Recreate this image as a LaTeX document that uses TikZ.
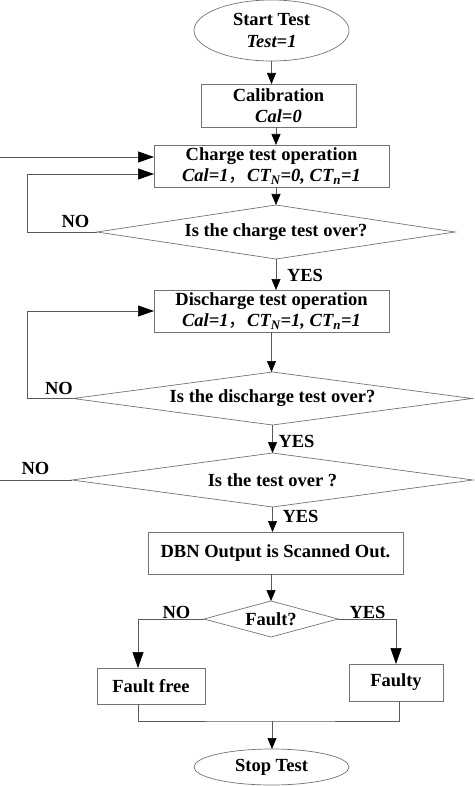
\documentclass[tikz,border=0pt]{standalone}
\usepackage{fontspec}
\setmainfont{Liberation Serif}
\newfontfamily\cjk{Noto Sans CJK SC}
\usepackage{tikz}
\usetikzlibrary{shapes.geometric,arrows.meta}

\tikzset{
	flowline/.style={draw=black!65, line width=0.7pt},
	arr/.style={flowline, -{Triangle[length=11pt,width=9pt,black]}},
	bigarr/.style={flowline, -{Triangle[length=16pt,width=11pt,black]}},
	procbox/.style={draw=black!55, line width=0.7pt, rectangle, align=center, inner sep=0pt, outer sep=0pt},
	termnode/.style={draw=black!55, line width=0.7pt, ellipse, align=center, inner sep=0pt, outer sep=0pt},
	decide/.style={draw=black!55, line width=0.7pt, diamond, inner sep=0pt, outer sep=0pt},
}

\begin{document}
\begin{tikzpicture}[x=1pt,y=-1pt,font=\fontsize{18.5}{21.5}\selectfont\bfseries]
		\useasboundingbox (0,0) rectangle (474,786);

		%% Steps, top to bottom
		\node[termnode, minimum width=155, minimum height=61] (start) at (271.5,30.5) {Start Test\\\textit{Test=1}};
		\node[procbox, minimum width=155, minimum height=43] (cal) at (278.5,105.5) {Calibration\\\textit{Cal=0}};
		\node[procbox, minimum width=235, minimum height=42] (charge) at (271.5,166)
		{Charge test operation\\\textit{Cal=1{\cjk\upshape\mdseries ，}CT\textsubscript{N}=0, CT\textsubscript{n}=1}};
		\node[decide, minimum width=358, minimum height=54, shape aspect=6.6] (d1) at (276,232) {Is the charge test over?};
		\node[procbox, minimum width=235, minimum height=42] (dis) at (271.5,311)
		{Discharge test operation\\\textit{Cal=1{\cjk\upshape\mdseries ，}CT\textsubscript{N}=1, CT\textsubscript{n}=1}};
		\node[decide, minimum width=399, minimum height=53, shape aspect=7.5] (d2) at (272.5,398.5) {Is the discharge test over?};
		\node[decide, minimum width=401, minimum height=54, shape aspect=7.4] (d3) at (272.5,480) {Is the test over ?};
		\node[procbox, minimum width=255, minimum height=42] (dbn) at (275.5,553) {DBN Output is Scanned Out.};
		\node[decide, minimum width=134, minimum height=36, shape aspect=3.7] (fault) at (271,619) {Fault?};
		\node[procbox, minimum width=108, minimum height=36] (free) at (151,686) {Fault free};
		\node[procbox, minimum width=94, minimum height=37] (faulty) at (396,682.5) {Faulty};
		\node[termnode, minimum width=155, minimum height=36] (stop) at (271.5,767) {Stop Test};

		%% Main flow
		\draw[arr] (start) -- (start |- cal.north);
		\draw[arr] (cal.south -| d1) -- (charge.north -| d1);
		\draw[arr] (charge.south -| d1) -- (d1.north);
		\draw[arr] (d1.south) -- (d1.south |- dis.north);
		\draw[arr] (dis.south) -- (dis.south |- d2.north);
		\draw[arr] (d2.south) -- (d3.north);
		\draw[arr] (d3.south) -- (d3.south |- dbn.north);
		\draw[arr] (dbn.south -| fault) -- (fault.north);

		% Fault branches
		\draw[bigarr] (fault.west) -| ([xshift=-13pt]free.north);
		\draw[bigarr] (fault.east) -| (faulty.north);
		\coordinate (merge) at (272,721);
		\draw[flowline] ([xshift=-13pt]free.south) |- (merge) -| ([xshift=3pt]faulty.south);
		\draw[arr] (merge) -- (merge |- stop.north);

		% Loops back on NO
		\draw[bigarr] (d1.west) -- ++(-70,0) |- ([yshift=-8pt]charge.west);
		\draw[bigarr] (d2.west) -- ++(-46,0) |- (dis.west);
		\coordinate (edgeA) at (0,480);
		\coordinate (edgeB) at (0,157);
		\draw[flowline] (d3.west) -- (edgeA);
		\draw[bigarr] (edgeB) -- ([yshift=9pt]charge.west);

		% YES / NO
		\node (no1) at (75.5,221) {NO};
		\node (no2) at (59,388) {NO};
		\node (no3) at (35.5,468) {NO};
		\node (no4) at (176.5,612.5) {NO};
		\node (yes1) at (305,275) {YES};
		\node (yes2) at (296.5,441) {YES};
		\node (yes3) at (300.5,516.5) {YES};
		\node (yes4) at (367.5,612.5) {YES};
	\end{tikzpicture}
\end{document}
